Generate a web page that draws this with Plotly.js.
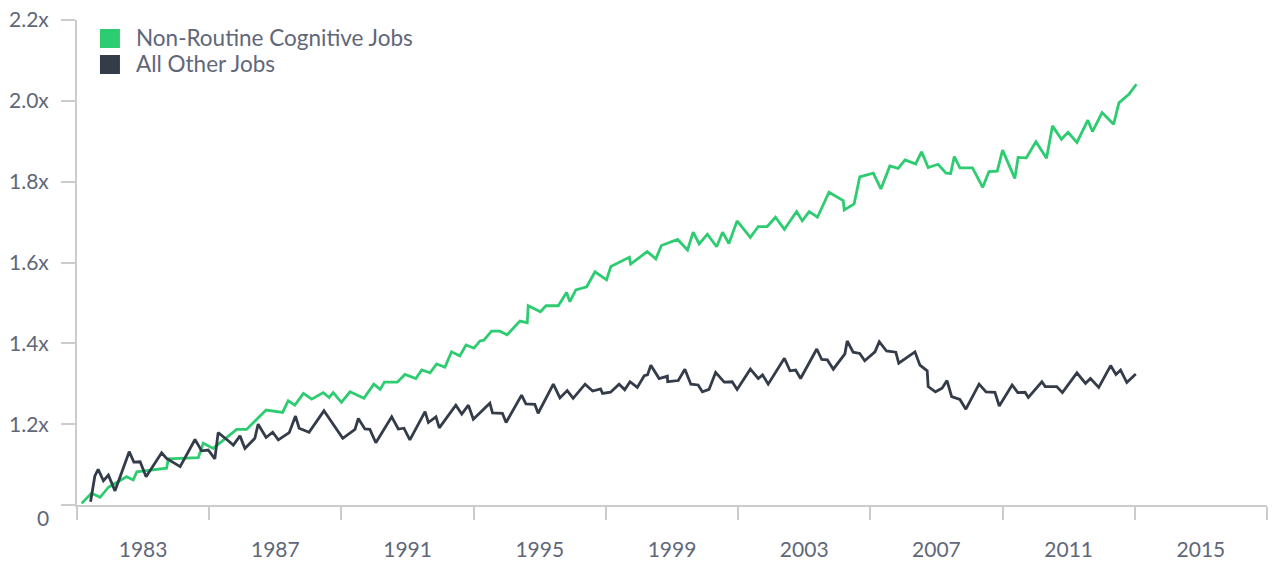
<!DOCTYPE html>
<html>
<head>
<meta charset="utf-8">
<script src="https://cdn.plot.ly/plotly-3.0.1.min.js"></script>
<style>html,body{margin:0;padding:0;background:#fff;}#chart{width:1272px;height:562px;}</style>
</head>
<body>
<div id="chart"></div>
<script>
// Series names
const nameCognitive = "Non-Routine Cognitive Jobs";
const nameOther = "All Other Jobs";

// Non-Routine Cognitive Jobs (decimal year, multiple of 1981 level)
const cogYears = [1981.14,1981.44,1981.70,1981.95,1982.50,1982.70,1982.81,1983.71,1983.76,1984.67,1984.82,1985.12,1985.83,1986.13,1986.72,1987.22,1987.39,1987.59,1987.85,1988.10,1988.45,1988.63,1988.75,1989.00,1989.26,1989.68,1989.98,1990.17,1990.30,1990.69,1990.92,1991.25,1991.43,1991.68,1991.88,1992.13,1992.33,1992.58,1992.77,1993.01,1993.19,1993.31,1993.54,1993.79,1994.01,1994.40,1994.62,1994.65,1995.02,1995.19,1995.56,1995.81,1995.91,1996.09,1996.42,1996.67,1997.02,1997.15,1997.71,1997.75,1998.25,1998.51,1998.68,1999.17,1999.47,1999.64,1999.82,2000.07,2000.35,2000.53,2000.72,2000.97,2001.37,2001.61,2001.88,2002.13,2002.40,2002.77,2002.94,2003.15,2003.40,2003.75,2004.18,2004.21,2004.51,2004.68,2005.09,2005.32,2005.59,2005.84,2006.05,2006.37,2006.55,2006.75,2007.05,2007.29,2007.43,2007.54,2007.71,2008.09,2008.40,2008.59,2008.84,2009.00,2009.37,2009.47,2009.72,2010.01,2010.33,2010.51,2010.78,2010.98,2011.25,2011.58,2011.72,2012.01,2012.36,2012.52,2012.83,2013.05];
const cogValues = [1.004,1.029,1.019,1.044,1.070,1.062,1.082,1.091,1.114,1.117,1.153,1.140,1.187,1.187,1.235,1.229,1.258,1.247,1.276,1.262,1.278,1.266,1.278,1.254,1.280,1.264,1.299,1.286,1.304,1.304,1.323,1.313,1.334,1.327,1.349,1.341,1.379,1.369,1.396,1.388,1.406,1.408,1.430,1.430,1.421,1.455,1.451,1.493,1.478,1.493,1.493,1.526,1.503,1.532,1.540,1.577,1.557,1.590,1.613,1.596,1.627,1.609,1.642,1.657,1.631,1.675,1.646,1.670,1.639,1.675,1.647,1.703,1.662,1.689,1.689,1.712,1.682,1.726,1.703,1.726,1.712,1.774,1.753,1.730,1.745,1.812,1.821,1.782,1.839,1.833,1.854,1.844,1.874,1.835,1.843,1.821,1.820,1.862,1.834,1.834,1.786,1.825,1.826,1.878,1.808,1.860,1.859,1.899,1.858,1.938,1.905,1.922,1.897,1.952,1.924,1.971,1.942,1.995,2.017,2.041];

// All Other Jobs
const otherYears = [1981.41,1981.54,1981.64,1981.80,1981.95,1982.15,1982.58,1982.72,1982.91,1983.09,1983.56,1983.71,1984.12,1984.57,1984.77,1984.97,1985.17,1985.27,1985.53,1985.73,1985.93,1986.08,1986.38,1986.48,1986.72,1986.92,1987.09,1987.42,1987.61,1987.72,1988.02,1988.47,1989.04,1989.41,1989.51,1989.71,1989.86,1990.04,1990.52,1990.72,1990.89,1991.07,1991.53,1991.63,1991.86,1991.96,1992.46,1992.64,1992.84,1992.99,1993.49,1993.57,1993.87,1993.98,1994.45,1994.58,1994.85,1994.95,1995.41,1995.61,1995.83,1996.01,1996.37,1996.60,1996.84,1996.90,1997.14,1997.40,1997.57,1997.73,1997.95,1998.16,1998.26,1998.36,1998.61,1998.86,1998.87,1999.19,1999.39,1999.57,1999.79,1999.92,2000.12,2000.32,2000.58,2000.82,2000.97,2001.37,2001.61,2001.74,2001.91,2002.40,2002.57,2002.74,2002.89,2003.38,2003.53,2003.70,2003.88,2004.23,2004.30,2004.48,2004.68,2004.83,2005.14,2005.27,2005.49,2005.77,2005.86,2006.35,2006.50,2006.72,2006.75,2006.97,2007.17,2007.32,2007.46,2007.71,2007.89,2008.29,2008.50,2008.77,2008.90,2009.29,2009.46,2009.68,2009.78,2010.19,2010.29,2010.64,2010.81,2011.25,2011.51,2011.66,2011.91,2012.27,2012.43,2012.57,2012.76,2013.03];
const otherValues = [1.008,1.072,1.088,1.060,1.074,1.035,1.132,1.106,1.107,1.070,1.129,1.115,1.095,1.162,1.134,1.136,1.114,1.179,1.162,1.148,1.171,1.140,1.165,1.200,1.167,1.180,1.161,1.179,1.220,1.190,1.180,1.233,1.165,1.187,1.214,1.188,1.187,1.154,1.218,1.188,1.190,1.161,1.231,1.204,1.218,1.191,1.247,1.225,1.247,1.212,1.252,1.228,1.227,1.204,1.272,1.250,1.249,1.227,1.299,1.265,1.283,1.264,1.299,1.282,1.287,1.276,1.279,1.299,1.285,1.305,1.291,1.320,1.322,1.346,1.313,1.319,1.305,1.308,1.336,1.299,1.297,1.280,1.286,1.328,1.304,1.305,1.286,1.336,1.313,1.322,1.299,1.363,1.332,1.334,1.313,1.386,1.360,1.359,1.336,1.374,1.406,1.378,1.375,1.357,1.379,1.404,1.381,1.378,1.351,1.379,1.346,1.332,1.293,1.280,1.289,1.308,1.268,1.261,1.237,1.299,1.280,1.279,1.245,1.297,1.278,1.279,1.266,1.305,1.293,1.293,1.278,1.327,1.301,1.313,1.291,1.345,1.323,1.334,1.303,1.324];

// Axis ticks
const xLabelYears = [1983,1987,1991,1995,1999,2003,2007,2011,2015];
const xLabelText = ["1983","1987","1991","1995","1999","2003","2007","2011","2015"];
const xTickYears = [1981,1985,1989,1993,1997,2001,2005,2009,2013,2017];
const yTickVals = [1.0,1.2,1.4,1.6,1.8,2.0,2.2];
const yTickText = ["","1.2x","1.4x","1.6x","1.8x","2.0x","2.2x"];
const yBaseLabel = "0";

const green = "#2ecc71";
const dark = "#343c4a";
const textColor = "#5f6779";
const axisColor = "#cccccc";
const fontFamily = "Lato, 'Open Sans', sans-serif";

const traces = [
  {x: cogYears, y: cogValues, name: nameCognitive, type: "scatter", mode: "lines",
   line: {color: green, width: 2.8}, showlegend: false, hoverinfo: "skip"},
  {x: otherYears, y: otherValues, name: nameOther, type: "scatter", mode: "lines",
   line: {color: dark, width: 2.8}, showlegend: false, hoverinfo: "skip"}
];

const layout = {
  width: 1272, height: 562,
  margin: {l: 77, r: 5, t: 20, b: 57},
  paper_bgcolor: "#fff", plot_bgcolor: "#fff",
  font: {family: fontFamily, color: textColor, size: 21},
  showlegend: false,
  xaxis: {
    range: [1981, 2017], tickmode: "array", tickvals: xLabelYears, ticktext: xLabelText,
    ticks: "outside", ticklen: 25, tickcolor: "rgba(0,0,0,0)",
    tickfont: {family: fontFamily, size: 21, color: textColor},
    showline: true, linecolor: axisColor, linewidth: 2,
    showgrid: false, zeroline: false, fixedrange: true,
    minor: {tickmode: "array", tickvals: xTickYears, ticks: "outside", ticklen: 13,
            tickcolor: axisColor, tickwidth: 2, showgrid: false}
  },
  yaxis: {
    range: [1.0, 2.2], tickmode: "array", tickvals: yTickVals, ticktext: yTickText,
    ticks: "outside", ticklen: 14, tickcolor: axisColor, tickwidth: 2,
    ticklabelstandoff: 8,
    tickfont: {family: fontFamily, size: 21, color: textColor},
    showline: true, linecolor: axisColor, linewidth: 2,
    showgrid: false, zeroline: false, fixedrange: true
  },
  shapes: [
    {type: "rect", xref: "paper", yref: "paper", x0: 0.0193, x1: 0.0361, y0: 0.9423, y1: 0.9814,
     fillcolor: green, line: {width: 0}},
    {type: "rect", xref: "paper", yref: "paper", x0: 0.0193, x1: 0.0361, y0: 0.8887, y1: 0.9278,
     fillcolor: dark, line: {width: 0}}
  ],
  annotations: [
    {text: nameCognitive, xref: "paper", yref: "paper", x: 0.0480, y: 0.9640,
     xanchor: "left", yanchor: "middle", showarrow: false,
     font: {family: fontFamily, size: 22.5, color: textColor}},
    {text: nameOther, xref: "paper", yref: "paper", x: 0.0480, y: 0.9100,
     xanchor: "left", yanchor: "middle", showarrow: false,
     font: {family: fontFamily, size: 22.5, color: textColor}},
    {text: yBaseLabel, xref: "paper", yref: "y", x: 0, y: 1.0, xanchor: "right", yanchor: "middle",
     xshift: -26, yshift: -12, showarrow: false,
     font: {family: fontFamily, size: 21, color: textColor}}
  ]
};

Plotly.newPlot("chart", traces, layout, {displayModeBar: false, staticPlot: true});
</script>
</body>
</html>
